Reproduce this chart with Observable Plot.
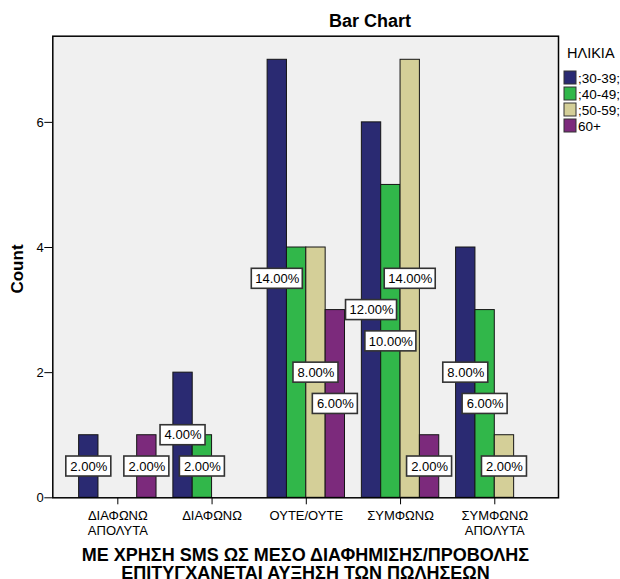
<!DOCTYPE html>
<html>
<head>
<meta charset="utf-8">
<script src="https://cdn.jsdelivr.net/npm/d3@7"></script>
<script src="https://cdn.jsdelivr.net/npm/@observablehq/plot@0.6"></script>
<style>
  body { margin: 0; background: #fff; }
  #chart { width: 620px; height: 579px; }
</style>
</head>
<body>
<div id="chart"></div>
<script>
// Answers to the survey question, grouped by age band
const categories = ["ΔΙΑΦΩΝΩ\nΑΠΟΛΥΤΑ", "ΔΙΑΦΩΝΩ", "ΟΥΤΕ/ΟΥΤΕ", "ΣΥΜΦΩΝΩ", "ΣΥΜΦΩΝΩ\nΑΠΟΛΥΤΑ"];
const ageGroups = [";30-39;", ";40-49;", ";50-59;", "60+"];
const count3039 = [1, 2, 7, 6, 4];
const count4049 = [0, 1, 4, 5, 3];
const count5059 = [0, 0, 4, 7, 1];
const count60plus = [1, 0, 3, 1, 0];
const yTicks = [0, 2, 4, 6];
const ageColors = ["#2a2a72", "#31b74a", "#d4cf98", "#7c2a7c"];

const chartTitle = "Bar Chart";
const yTitle = "Count";
const xTitle = ["ΜΕ ΧΡΗΣΗ SMS ΩΣ ΜΕΣΟ ΔΙΑΦΗΜΙΣΗΣ/ΠΡΟΒΟΛΗΣ", "ΕΠΙΤΥΓΧΑΝΕΤΑΙ ΑΥΞΗΣΗ ΤΩΝ ΠΩΛΗΣΕΩΝ"];
const legendTitle = "ΗΛΙΚΙΑ";

const series = [count3039, count4049, count5059, count60plus];
const total = d3.sum(series.flat());

// one record per (answer, age band); bars are dodged inside each answer group
const W = 0.2053; // bar width in group units
const bars = [];
categories.forEach((c, i) => series.forEach((arr, j) => {
  bars.push({cat: c, gi: i, j, age: ageGroups[j], count: arr[i]});
}));
const drawn = bars.filter(d => d.count > 0);
const cx = d => d.gi + (d.j - 1.5) * W;

// percentage labels at half bar height; a label is dropped when a later bar
// of the same group, at most two bars away, has the same height (boxes collide)
const labels = drawn
  .filter(d => !drawn.some(e => e.gi === d.gi && e.j > d.j && e.j - d.j <= 2 && e.count === d.count))
  .map(d => ({...d, text: (d.count / total * 100).toFixed(2) + "%"}));

const FONT = "'Liberation Sans', Arial, Helvetica, sans-serif";

const boxOpts = (half) => ({
  x1: cx, x2: cx,
  y1: d => d.count / 2, y2: d => d.count / 2,
  insetLeft: -half, insetRight: -half, insetTop: -10, insetBottom: -10,
  fill: "white", stroke: "#333", strokeWidth: 1.6
});

const plot = Plot.plot({
  width: 620,
  height: 579,
  marginLeft: 52.3,
  marginRight: 62,
  marginTop: 35.7,
  marginBottom: 81.7,
  style: {fontFamily: FONT, fontSize: "13px", color: "#000", background: "white", overflow: "visible"},
  x: {domain: [-0.690, 4.676], ticks: [0, 1, 2, 3, 4], tickFormat: () => "", tickSize: 7, label: null},
  y: {domain: [0, 7.377], ticks: yTicks, tickFormat: d3.format("d"), tickSize: 8, tickPadding: 1, label: null},
  color: {domain: ageGroups, range: ageColors},
  marks: [
    Plot.frame({fill: "#f0f0f0"}),
    Plot.rect(drawn, {
      x1: d => d.gi + (d.j - 2) * W,
      x2: d => d.gi + (d.j - 1) * W,
      y1: 0, y2: "count",
      fill: "age", stroke: "#151515", strokeWidth: 1
    }),
    Plot.frame({stroke: "#000", strokeWidth: 1.5}),
    Plot.rect(labels.filter(d => d.text.length < 6), boxOpts(22.5)),
    Plot.rect(labels.filter(d => d.text.length >= 6), boxOpts(25.5)),
    Plot.text(labels, {x: cx, y: d => d.count / 2, text: "text", fontSize: 13, fill: "#000"}),
    Plot.text(categories.map((c, i) => ({c, i})), {
      x: "i", y: () => 0, text: "c", lineAnchor: "top", dy: 12.5,
      fontSize: 13, lineHeight: 1.1, fill: "#000"
    })
  ]
});

document.getElementById("chart").appendChild(plot);

const svg = d3.select(plot);

svg.append("text")
  .attr("x", 370).attr("y", 27)
  .attr("text-anchor", "middle")
  .attr("font-family", FONT).attr("font-weight", "bold").attr("font-size", 18)
  .text(chartTitle);

svg.append("text")
  .attr("transform", "translate(23,269) rotate(-90)")
  .attr("text-anchor", "middle")
  .attr("font-family", FONT).attr("font-weight", "bold").attr("font-size", 17)
  .text(yTitle);

xTitle.forEach((t, k) => {
  svg.append("text")
    .attr("x", 305.5).attr("y", 560.5 + k * 18.5)
    .attr("text-anchor", "middle")
    .attr("font-family", FONT).attr("font-weight", "bold").attr("font-size", 18)
    .text(t);
});

// legend
const lg = svg.append("g").attr("font-family", FONT).attr("text-anchor", "start");
lg.append("text").attr("x", 567).attr("y", 58).attr("font-size", 14.5).text(legendTitle);
ageGroups.forEach((a, k) => {
  lg.append("rect")
    .attr("x", 564).attr("y", 71 + k * 16).attr("width", 12).attr("height", 13)
    .attr("fill", ageColors[k]).attr("stroke", "#333").attr("stroke-width", 1);
  lg.append("text").attr("x", 578).attr("y", 82.5 + k * 16).attr("font-size", 13.5).text(a);
});
</script>
</body>
</html>
